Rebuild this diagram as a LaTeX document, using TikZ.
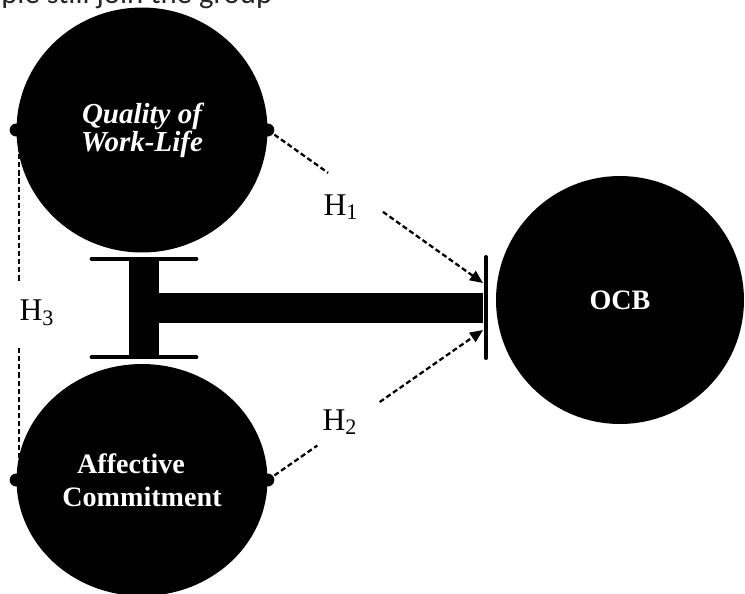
\documentclass[tikz,border=0pt]{standalone}
\usepackage{fontspec}
\setmainfont{Liberation Serif}
\newfontfamily\topfont{Carlito}
\usetikzlibrary{shapes.geometric,arrows.meta}
\tikzset{
  bubble/.style={ellipse,fill=black,text=white,align=center,inner sep=0pt},
  hyp/.style={line width=1.3pt,dash pattern=on 2.9pt off 1.7pt},
  hlab/.style={font=\fontsize{18}{18}\selectfont,inner sep=3pt},
  bar/.style={line width=2.8pt,line cap=round}
}

\begin{document}
\begin{tikzpicture}[x=0.02cm,y=-0.02cm]
	\useasboundingbox (0,0) rectangle (745,593);

	\node[anchor=base west,inner sep=0pt,text=black!85,font=\topfont\fontsize{17.5}{20}\selectfont] (cut) at (1,3) {ple still join the group};

	% the three constructs
	\node[bubble,minimum width=5.02cm,minimum height=4.9cm,font=\fontsize{16.5}{16}\selectfont\bfseries\itshape] (qwl) at (142,130) {Quality of\\Work-Life};
	\node[bubble,minimum width=5.02cm,minimum height=4.64cm,font=\fontsize{16}{19}\selectfont\bfseries] (ac) at (142,480) {Affective\hspace*{0.44cm}\\Commitment};
	\node[bubble,minimum size=4.96cm,font=\fontsize{16}{16}\selectfont\bfseries] (ocb) at (620,300) {OCB};

	\fill (qwl.west) circle (0.13cm) (qwl.east) circle (0.13cm);
	\fill (ac.west) circle (0.13cm) (ac.east) circle (0.13cm);

	% interaction bar
	\draw[bar] (92,259) -- (196,259);
	\draw[bar] (92,357) -- (196,357);
	\fill (129,259) rectangle (159,357);
	\fill (159,293) rectangle (483,323);
	\coordinate (stopT) at (486,257);
	\coordinate (stopB) at (486,358);
	\draw[line width=2.3pt,line cap=round] (stopT) -- (stopB);

	\coordinate (tip1) at (483,283);
	\coordinate (tip2) at (483,330);

	% H1
	\path (qwl.east) -- (tip1) coordinate[pos=0.28] (g1a) coordinate[pos=0.535] (g1b);
	\draw[hyp] (qwl.east) -- (g1a);
	\draw[hyp,-{Triangle[length=0.26cm,width=0.22cm]}] (g1b) -- (tip1);
	\node[hlab] (h1) at (341,207) {H\textsubscript{1}};

	% H2
	\path (ac.east) -- (tip2) coordinate[pos=0.23] (g2a) coordinate[pos=0.52] (g2b);
	\draw[hyp] (ac.east) -- (g2a);
	\draw[hyp,-{Triangle[length=0.26cm,width=0.22cm]}] (g2b) -- (tip2);
	\node[hlab] (h2) at (340,422) {H\textsubscript{2}};

	% H3
	\draw[hyp] ([xshift=0.06cm]qwl.west) -- ([xshift=0.06cm]ac.west);
	\node[hlab,fill=white,minimum height=1.3cm] (h3) at (37,313) {H\textsubscript{3}};
\end{tikzpicture}
\end{document}
